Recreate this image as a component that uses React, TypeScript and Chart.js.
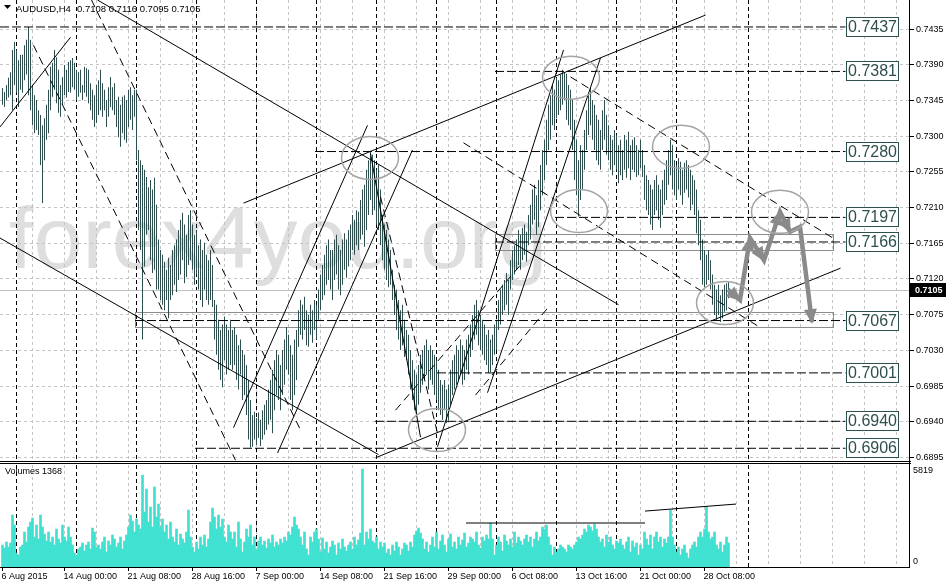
import React, { useEffect, useRef } from 'react';
import { Chart, registerables } from 'chart.js';

Chart.register(...registerables);

// ---------- data ----------
const SYMBOL = 'AUDUSD,H4';
const LAST_OHLC = ['0.7108', '0.7116', '0.7095', '0.7105'];
const BID = 0.7105;
const WATERMARK = 'forex4you.org';

const HIGHS = [
  0.7360, 0.7355, 0.7364, 0.7373, 0.7380, 0.7408, 0.7418, 0.7408, 0.7395, 0.7402,
  0.7402, 0.7414, 0.7421, 0.7437, 0.7421, 0.7364, 0.7351, 0.7345, 0.7332, 0.7326,
  0.7313, 0.7322, 0.7339, 0.7358, 0.7387, 0.7392, 0.7408, 0.7399, 0.7383, 0.7364,
  0.7374, 0.7389, 0.7383, 0.7393, 0.7395, 0.7398, 0.7392, 0.7383, 0.7380, 0.7383,
  0.7364, 0.7387, 0.7385, 0.7383, 0.7366, 0.7358, 0.7351, 0.7364, 0.7370, 0.7383,
  0.7366, 0.7358, 0.7345, 0.7361, 0.7374, 0.7361, 0.7366, 0.7345, 0.7349, 0.7339,
  0.7349, 0.7351, 0.7345, 0.7358, 0.7361, 0.7351, 0.7358, 0.7358, 0.7282, 0.7269,
  0.7263, 0.7257, 0.7248, 0.7235, 0.7244, 0.7232, 0.7247, 0.7213, 0.7169, 0.7156,
  0.7150, 0.7141, 0.7131, 0.7146, 0.7137, 0.7156, 0.7162, 0.7169, 0.7181, 0.7194,
  0.7203, 0.7188, 0.7175, 0.7200, 0.7206, 0.7188, 0.7175, 0.7181, 0.7162, 0.7169,
  0.7156, 0.7165, 0.7150, 0.7143, 0.7156, 0.7137, 0.7093, 0.7087, 0.7068, 0.7055,
  0.7062, 0.7072, 0.7062, 0.7055, 0.7068, 0.7055, 0.7059, 0.7049, 0.7036, 0.7043,
  0.7030, 0.7024, 0.7011, 0.6992, 0.6967, 0.6948, 0.6952, 0.6944, 0.6951, 0.6942,
  0.6954, 0.6961, 0.6967, 0.6980, 0.6992, 0.7005, 0.7017, 0.7030, 0.7024, 0.7011,
  0.7030, 0.7043, 0.7059, 0.7049, 0.7036, 0.7024, 0.7043, 0.7055, 0.7080, 0.7093,
  0.7087, 0.7097, 0.7080, 0.7074, 0.7087, 0.7080, 0.7093, 0.7087, 0.7106, 0.7125,
  0.7137, 0.7150, 0.7162, 0.7169, 0.7156, 0.7156, 0.7169, 0.7175, 0.7162, 0.7156,
  0.7169, 0.7177, 0.7169, 0.7181, 0.7188, 0.7200, 0.7194, 0.7206, 0.7204, 0.7219,
  0.7232, 0.7238, 0.7257, 0.7269, 0.7281, 0.7276, 0.7269, 0.7257, 0.7263, 0.7232,
  0.7200, 0.7188, 0.7181, 0.7169, 0.7156, 0.7131, 0.7112, 0.7106, 0.7093, 0.7080,
  0.7087, 0.7068, 0.7055, 0.7049, 0.7030, 0.7017, 0.7005, 0.6999, 0.7011, 0.7024,
  0.7030, 0.7036, 0.7043, 0.7030, 0.7036, 0.7030, 0.7024, 0.7017, 0.7005, 0.6992,
  0.6986, 0.6992, 0.6980, 0.6986, 0.7005, 0.7017, 0.7024, 0.7036, 0.7030, 0.7043,
  0.7036, 0.7030, 0.7043, 0.7049, 0.7062, 0.7074, 0.7087, 0.7093, 0.7080, 0.7074,
  0.7068, 0.7062, 0.7049, 0.7055, 0.7043, 0.7049, 0.7062, 0.7068, 0.7093, 0.7106,
  0.7112, 0.7118, 0.7127, 0.7118, 0.7143, 0.7156, 0.7162, 0.7169, 0.7181, 0.7175,
  0.7184, 0.7188, 0.7179, 0.7200, 0.7213, 0.7232, 0.7238, 0.7225, 0.7244, 0.7263,
  0.7282, 0.7295, 0.7320, 0.7339, 0.7351, 0.7364, 0.7358, 0.7373, 0.7370, 0.7377,
  0.7383, 0.7380, 0.7378, 0.7364, 0.7358, 0.7345, 0.7320, 0.7295, 0.7269, 0.7288,
  0.7282, 0.7307, 0.7332, 0.7351, 0.7360, 0.7345, 0.7339, 0.7326, 0.7320, 0.7307,
  0.7332, 0.7345, 0.7326, 0.7313, 0.7301, 0.7295, 0.7307, 0.7301, 0.7288, 0.7295,
  0.7282, 0.7301, 0.7295, 0.7305, 0.7288, 0.7295, 0.7298, 0.7288, 0.7282, 0.7295,
  0.7282, 0.7263, 0.7250, 0.7244, 0.7238, 0.7232, 0.7244, 0.7250, 0.7238, 0.7232,
  0.7244, 0.7257, 0.7269, 0.7282, 0.7295, 0.7288, 0.7269, 0.7263, 0.7272, 0.7267,
  0.7257, 0.7266, 0.7269, 0.7263, 0.7257, 0.7250, 0.7244, 0.7232, 0.7206, 0.7194,
  0.7169, 0.7156, 0.7150, 0.7156, 0.7143, 0.7125, 0.7112, 0.7106, 0.7112, 0.7099,
  0.7106, 0.7112, 0.7114, 0.7116,
];

const LOWS = [
  0.7339, 0.7336, 0.7345, 0.7348, 0.7351, 0.7332, 0.7364, 0.7354, 0.7336, 0.7358,
  0.7354, 0.7370, 0.7377, 0.7351, 0.7332, 0.7313, 0.7303, 0.7307, 0.7301, 0.7263,
  0.7215, 0.7269, 0.7295, 0.7303, 0.7332, 0.7349, 0.7358, 0.7341, 0.7329, 0.7324,
  0.7339, 0.7351, 0.7348, 0.7355, 0.7354, 0.7361, 0.7358, 0.7345, 0.7349, 0.7354,
  0.7345, 0.7354, 0.7349, 0.7341, 0.7332, 0.7320, 0.7311, 0.7316, 0.7326, 0.7332,
  0.7324, 0.7332, 0.7311, 0.7324, 0.7336, 0.7332, 0.7326, 0.7311, 0.7298, 0.7286,
  0.7303, 0.7295, 0.7291, 0.7311, 0.7320, 0.7307, 0.7324, 0.7269, 0.7181, 0.7156,
  0.7043, 0.7135, 0.7175, 0.7181, 0.7143, 0.7127, 0.7131, 0.7106, 0.7106, 0.7093,
  0.7087, 0.7080, 0.7093, 0.7070, 0.7093, 0.7099, 0.7112, 0.7103, 0.7118, 0.7125,
  0.7143, 0.7114, 0.7122, 0.7137, 0.7143, 0.7131, 0.7112, 0.7125, 0.7106, 0.7093,
  0.7084, 0.7106, 0.7093, 0.7087, 0.7093, 0.7084, 0.7043, 0.7024, 0.7005, 0.6992,
  0.6983, 0.7017, 0.6999, 0.7005, 0.7011, 0.7005, 0.7011, 0.6992, 0.6980, 0.6999,
  0.6967, 0.6973, 0.6948, 0.6917, 0.6907, 0.6908, 0.6917, 0.6910, 0.6919, 0.6909,
  0.6917, 0.6923, 0.6929, 0.6936, 0.6942, 0.6925, 0.6954, 0.6973, 0.6967, 0.6954,
  0.6973, 0.6986, 0.7005, 0.6999, 0.6967, 0.6954, 0.6973, 0.6992, 0.7034, 0.7049,
  0.7043, 0.7055, 0.7036, 0.7034, 0.7049, 0.7039, 0.7055, 0.7043, 0.7068, 0.7080,
  0.7093, 0.7099, 0.7112, 0.7118, 0.7106, 0.7093, 0.7118, 0.7125, 0.7106, 0.7099,
  0.7112, 0.7131, 0.7121, 0.7135, 0.7143, 0.7156, 0.7150, 0.7162, 0.7156, 0.7169,
  0.7175, 0.7160, 0.7181, 0.7200, 0.7219, 0.7200, 0.7206, 0.7188, 0.7181, 0.7162,
  0.7143, 0.7131, 0.7118, 0.7109, 0.7112, 0.7093, 0.7074, 0.7055, 0.7043, 0.7030,
  0.7036, 0.7021, 0.7017, 0.6999, 0.6980, 0.6967, 0.6954, 0.6946, 0.6961, 0.6976,
  0.6986, 0.6992, 0.6999, 0.6980, 0.6992, 0.6986, 0.6973, 0.6967, 0.6954, 0.6948,
  0.6942, 0.6954, 0.6938, 0.6941, 0.6961, 0.6973, 0.6980, 0.6986, 0.6992, 0.6999,
  0.6986, 0.6992, 0.7005, 0.6999, 0.7021, 0.7030, 0.7043, 0.7049, 0.7036, 0.7030,
  0.7024, 0.7017, 0.7011, 0.7001, 0.7002, 0.7011, 0.7024, 0.7030, 0.7055, 0.7062,
  0.7074, 0.7080, 0.7087, 0.7074, 0.7106, 0.7118, 0.7125, 0.7131, 0.7137, 0.7131,
  0.7143, 0.7150, 0.7141, 0.7162, 0.7169, 0.7188, 0.7194, 0.7175, 0.7185, 0.7206,
  0.7225, 0.7244, 0.7263, 0.7282, 0.7295, 0.7313, 0.7307, 0.7322, 0.7326, 0.7332,
  0.7339, 0.7345, 0.7320, 0.7313, 0.7307, 0.7282, 0.7244, 0.7225, 0.7198, 0.7219,
  0.7232, 0.7257, 0.7282, 0.7301, 0.7313, 0.7295, 0.7282, 0.7269, 0.7263, 0.7257,
  0.7282, 0.7295, 0.7276, 0.7269, 0.7257, 0.7250, 0.7263, 0.7257, 0.7240, 0.7250,
  0.7244, 0.7257, 0.7247, 0.7259, 0.7244, 0.7257, 0.7254, 0.7248, 0.7250, 0.7259,
  0.7248, 0.7219, 0.7206, 0.7200, 0.7188, 0.7181, 0.7200, 0.7206, 0.7194, 0.7184,
  0.7200, 0.7213, 0.7219, 0.7238, 0.7250, 0.7232, 0.7225, 0.7219, 0.7232, 0.7225,
  0.7213, 0.7228, 0.7232, 0.7222, 0.7206, 0.7213, 0.7200, 0.7177, 0.7162, 0.7143,
  0.7112, 0.7109, 0.7112, 0.7118, 0.7106, 0.7087, 0.7074, 0.7068, 0.7074, 0.7065,
  0.7070, 0.7078, 0.7080, 0.7095,
];

const VOLUMES = [
  1254, 1083, 1425, 1140, 1368, 2964, 2394, 798, 684, 1140,
  1254, 1995, 1425, 2280, 2565, 2793, 1710, 2394, 1596, 2964,
  2280, 1881, 1482, 1995, 1425, 1710, 1254, 2166, 1596, 1368,
  2394, 1710, 1482, 2280, 1710, 1254, 798, 684, 1026, 1140,
  1368, 912, 1254, 1425, 1026, 2223, 1995, 1140, 1254, 1026,
  1425, 1710, 855, 1482, 1254, 1824, 1596, 1140, 1368, 1710,
  1026, 1482, 1824, 2280, 2964, 2622, 1995, 2736, 2394, 2166,
  5244, 3135, 4446, 2565, 3420, 2280, 4560, 2850, 3591, 2280,
  2736, 1995, 2394, 1596, 2565, 1710, 1425, 2166, 1254, 1881,
  1596, 1368, 1995, 3249, 1710, 1140, 855, 1425, 1026, 1710,
  1254, 1824, 1140, 1596, 2565, 3363, 2850, 2166, 2964, 2280,
  2736, 1710, 1425, 2394, 1995, 1596, 1995, 1140, 2565, 1596,
  855, 1425, 2166, 1710, 2394, 1254, 1710, 1026, 1482, 1710,
  1254, 1482, 1083, 1596, 1368, 1824, 1140, 1425, 1254, 1596,
  1368, 1710, 1482, 1995, 1824, 2280, 2850, 2394, 2166, 1710,
  1254, 1995, 1026, 684, 1710, 1425, 1995, 2166, 1596, 855,
  1653, 1026, 1425, 798, 1140, 1482, 1254, 684, 1368, 1026,
  1596, 1140, 912, 1254, 1425, 1026, 1710, 1254, 1539, 1938,
  5586, 1254, 1995, 1596, 2166, 1482, 1368, 1710, 1026, 1425,
  1140, 1368, 798, 1026, 684, 1254, 912, 1425, 1140, 684,
  1026, 1368, 1254, 912, 1425, 1140, 1824, 2052, 2223, 1938,
  1596, 1026, 1425, 855, 1254, 1710, 1140, 1995, 1026, 1482,
  1824, 1254, 855, 1596, 1881, 1140, 1425, 1026, 1710, 1254,
  1539, 1938, 1140, 1368, 1710, 1596, 1425, 1995, 1254, 1083,
  1710, 1482, 1824, 1596, 2508, 1596, 684, 1254, 1710, 1425,
  912, 1824, 1482, 1254, 1596, 1140, 1995, 1368, 1710, 1482,
  1254, 1596, 1824, 1425, 1710, 1140, 1596, 1995, 1482, 1710,
  2280, 2166, 2394, 1710, 1254, 684, 1140, 855, 1026, 1254,
  1140, 1026, 855, 1254, 1140, 1026, 1254, 1425, 1710, 1596,
  1824, 2166, 1995, 2394, 2280, 2052, 2451, 2166, 1710, 1425,
  1596, 1140, 1824, 1425, 1710, 1254, 1026, 1482, 1368, 1596,
  1254, 1026, 1425, 1710, 855, 1482, 1140, 1368, 684, 1254,
  1026, 1995, 1596, 1254, 1824, 1026, 1710, 1995, 1425, 1710,
  1140, 1596, 1368, 1710, 3249, 1710, 1254, 855, 1140, 684,
  1026, 1254, 798, 513, 1026, 1254, 1425, 1140, 1710, 1995,
  1710, 2166, 3420, 1995, 1596, 1710, 1995, 1254, 1026, 1425,
  855, 1254, 1710, 1368,
];

const PRICE_TICKS = [0.6895, 0.6940, 0.6985, 0.7030, 0.7075, 0.7120, 0.7165, 0.7210, 0.7255, 0.7300, 0.7345, 0.7390, 0.7435];
const VOLUME_AXIS_MAX = 5819;
const TIME_LABELS = ['6 Aug 2015', '14 Aug 00:00', '21 Aug 08:00', '28 Aug 16:00', '7 Sep 00:00', '14 Sep 08:00', '21 Sep 16:00', '29 Sep 00:00', '6 Oct 08:00', '13 Oct 16:00', '21 Oct 00:00', '28 Oct 08:00'];
const TIME_LABEL_BARS = [0, 31, 63, 95, 127, 159, 191, 223, 255, 287, 319, 351];
const SEPARATOR_BARS = [7, 37, 67, 97, 127, 157, 187, 217, 247, 277, 307, 337, 373];

// horizontal levels with their labels
const LEVELS = [0.7437, 0.7381, 0.7280, 0.7197, 0.7166, 0.7067, 0.7001, 0.6940, 0.6906];
const LEVEL_FROM = [-1.25, 246.25, 156.25, 276.25, 246.25, 66.25, 217.25, 186.25, 96.25];
const LEVEL_LABEL_BAR = 421.5;

// zones (rectangles)
const ZONE_FROM = [66.25, 246.25];
const ZONE_TO = [415, 415];
const ZONE_TOP = [0.70778, 0.71761];
const ZONE_BOTTOM = [0.70589, 0.71559];

// trend lines [bar1, price1, bar2, price2]
const TREND_SOLID = [
  [47.5, 0.7471, 308, 0.7087],
  [-1.25, 0.7171, 188, 0.6898],
  [186.5, 0.6894, 419, 0.7133],
  [120.5, 0.7215, 351.5, 0.7452],
  [115.5, 0.6932, 182.5, 0.7313],
  [137.5, 0.6900, 205, 0.7282],
  [-1.25, 0.7311, 34, 0.7424],
  [217.5, 0.6908, 280.5, 0.7408],
  [242.5, 0.6976, 299, 0.7398],
  [184, 0.7278, 209, 0.6920],
];
const TREND_DASHED = [
  [15.5, 0.7414, 116.5, 0.6891],
  [44.5, 0.7471, 149, 0.6929],
  [189, 0.7223, 217.5, 0.6925],
  [284, 0.7374, 416.5, 0.7169],
  [230.5, 0.7291, 379, 0.7058],
  [196.5, 0.6954, 259, 0.7137],
  [236.5, 0.6973, 273, 0.7084],
];

// ellipse centres [bar, price]
const ELLIPSE_BARS = [183.75, 217.25, 284.25, 288.25, 339.25, 361.25, 388.75];
const ELLIPSE_PRICES = [0.7272, 0.6929, 0.7373, 0.7205, 0.7286, 0.7089, 0.7204];

// forecast path
const FORECAST_BARS = [362.75, 368.75, 373.75, 380.75, 388.75, 393.75, 398.75, 404.75];
const FORECAST_PRICES = [0.7106, 0.7093, 0.7171, 0.7143, 0.7204, 0.7179, 0.7185, 0.7065];
const FORECAST_HEADS = [1, 2, 3, 4, 5, 7];

// volume trend lines
const VOL_LINES = [
  [231.75, 2510, 321.25, 2510],
  [321.25, 3190, 366.75, 3590],
];

// ---------- layout / style ----------
const X_MIN = -1.25;
const X_MAX = 453.25;
const P_MIN = 0.68887;
const P_MAX = 0.7471;
const FONT = '"Liberation Sans", Arial, sans-serif';
const BAR_COLOR = '#2f4f4f';
const VOL_COLOR = '#40e0d0';
const GRID_COLOR = '#c4c4c4';

function hline(ctx: CanvasRenderingContext2D, x0: number, x1: number, y: number) {
  ctx.beginPath(); ctx.moveTo(x0, y); ctx.lineTo(x1, y); ctx.stroke();
}
function vline(ctx: CanvasRenderingContext2D, x: number, y0: number, y1: number) {
  ctx.beginPath(); ctx.moveTo(x, y0); ctx.lineTo(x, y1); ctx.stroke();
}
const crisp = (v: number) => Math.round(v) + 0.5;

function drawVerticalGrid(chart: any) {
  const { ctx, chartArea: a, scales } = chart;
  const x = scales.x;
  ctx.save();
  ctx.lineWidth = 1;
  ctx.strokeStyle = GRID_COLOR;
  ctx.setLineDash([3, 3]);
  for (let b = 15; b <= X_MAX; b += 16) {
    vline(ctx, Math.floor(x.getPixelForValue(b)) + 0.5, a.top, a.bottom);
  }
  ctx.strokeStyle = '#000';
  ctx.setLineDash([4, 3]);
  for (const b of SEPARATOR_BARS) {
    vline(ctx, Math.floor(x.getPixelForValue(b)) + 0.5, a.top, a.bottom);
  }
  ctx.restore();
}

function arrowHead(ctx: CanvasRenderingContext2D, x0: number, y0: number, x1: number, y1: number) {
  const ang = Math.atan2(y1 - y0, x1 - x0);
  const len = 13, half = 6.5;
  const bx = x1 - len * Math.cos(ang), by = y1 - len * Math.sin(ang);
  ctx.beginPath();
  ctx.moveTo(x1 + 2 * Math.cos(ang), y1 + 2 * Math.sin(ang));
  ctx.lineTo(bx + half * Math.sin(ang), by - half * Math.cos(ang));
  ctx.lineTo(bx - half * Math.sin(ang), by + half * Math.cos(ang));
  ctx.closePath();
  ctx.fill();
}

const pricePlugin = {
  id: 'mt4price',
  beforeDraw(chart: any) {
    const { ctx, width, height } = chart;
    ctx.save(); ctx.fillStyle = '#fff'; ctx.fillRect(0, 0, width, height); ctx.restore();
  },
  beforeDatasetsDraw(chart: any) {
    const { ctx, chartArea: a, scales } = chart;
    const x = scales.x, y = scales.y;
    ctx.save();
    // watermark
    ctx.fillStyle = '#dedede';
    ctx.font = `88px ${FONT}`;
    ctx.textBaseline = 'alphabetic';
    ctx.textAlign = 'left';
    ctx.fillText(WATERMARK, 9, 268);
    // horizontal grid
    ctx.lineWidth = 1;
    ctx.strokeStyle = GRID_COLOR;
    ctx.setLineDash([3, 3]);
    for (const t of PRICE_TICKS) hline(ctx, a.left, a.right, crisp(y.getPixelForValue(t)));
    ctx.setLineDash([]);
    ctx.restore();
    drawVerticalGrid(chart);
    ctx.save();
    // bid line
    ctx.strokeStyle = '#c0c0c0';
    ctx.lineWidth = 1;
    hline(ctx, a.left, a.right, crisp(y.getPixelForValue(BID)));
    // zones
    ctx.strokeStyle = '#8c8c8c';
    for (let k = 0; k < ZONE_FROM.length; k++) {
      const x0 = crisp(x.getPixelForValue(ZONE_FROM[k]));
      const x1 = crisp(x.getPixelForValue(ZONE_TO[k]));
      const y0 = crisp(y.getPixelForValue(ZONE_TOP[k]));
      const y1 = crisp(y.getPixelForValue(ZONE_BOTTOM[k]));
      ctx.strokeRect(x0, y0, x1 - x0, y1 - y0);
    }
    ctx.restore();
  },
  afterDatasetsDraw(chart: any) {
    const { ctx, chartArea: a, scales, width } = chart;
    const x = scales.x, y = scales.y;
    ctx.save();
    // ellipses
    ctx.strokeStyle = '#a4a4a4';
    ctx.lineWidth = 1.5;
    for (let k = 0; k < ELLIPSE_BARS.length; k++) {
      ctx.beginPath();
      ctx.ellipse(x.getPixelForValue(ELLIPSE_BARS[k]), y.getPixelForValue(ELLIPSE_PRICES[k]), 28.5, 21.5, 0, 0, Math.PI * 2);
      ctx.stroke();
    }
    // forecast arrow heads
    const meta = chart.getDatasetMeta(chart.data.datasets.findIndex((d: any) => d.label === 'forecast'));
    ctx.fillStyle = '#8a8a8a';
    for (const h of FORECAST_HEADS) {
      const p0 = meta.data[h - 1], p1 = meta.data[h];
      arrowHead(ctx, p0.x, p0.y, p1.x, p1.y);
    }
    // level labels
    ctx.lineWidth = 1;
    ctx.font = `16px ${FONT}`;
    ctx.textBaseline = 'middle';
    ctx.textAlign = 'center';
    const bx = Math.round(x.getPixelForValue(LEVEL_LABEL_BAR)) + 0.5;
    for (const lv of LEVELS) {
      const cy = Math.round(y.getPixelForValue(lv));
      ctx.fillStyle = '#fff';
      ctx.fillRect(bx, cy - 9.5, 52, 19);
      ctx.strokeStyle = BAR_COLOR;
      ctx.strokeRect(bx, cy - 9.5, 52, 19);
      ctx.fillStyle = BAR_COLOR;
      ctx.fillText(lv.toFixed(4), bx + 26, cy + 1);
    }
    // right axis
    ctx.strokeStyle = '#000';
    vline(ctx, a.right + 0.5, 0, a.bottom);
    ctx.font = `9px ${FONT}`;
    ctx.textAlign = 'left';
    ctx.fillStyle = '#000';
    for (const t of PRICE_TICKS) {
      const ty = crisp(y.getPixelForValue(t));
      hline(ctx, a.right + 1, a.right + 5, ty);
      ctx.fillText(t.toFixed(4), a.right + 7, ty);
    }
    // bid label
    const by = Math.round(y.getPixelForValue(BID));
    ctx.fillStyle = '#000';
    ctx.fillRect(a.right + 1, by - 7, width - a.right - 1, 14);
    ctx.fillStyle = '#fff';
    ctx.font = `bold 9px ${FONT}`;
    ctx.fillText(BID.toFixed(4), a.right + 6, by + 0.5);
    // panel separator
    ctx.strokeStyle = '#000';
    hline(ctx, 0, a.right + 2, a.bottom - 0.5);
    // header
    ctx.fillStyle = '#000';
    ctx.beginPath();
    ctx.moveTo(4, 5); ctx.lineTo(11, 5); ctx.lineTo(7.5, 9); ctx.closePath(); ctx.fill();
    ctx.font = `9.5px ${FONT}`;
    ctx.textBaseline = 'alphabetic';
    ctx.fillText(SYMBOL, 16, 11.5);
    ctx.fillText(LAST_OHLC.join(' '), 77, 11.5);
    ctx.restore();
  },
};

const volumePlugin = {
  id: 'mt4volume',
  beforeDraw(chart: any) {
    const { ctx, width, height } = chart;
    ctx.save(); ctx.fillStyle = '#fff'; ctx.fillRect(0, 0, width, height); ctx.restore();
  },
  beforeDatasetsDraw(chart: any) {
    drawVerticalGrid(chart);
  },
  afterDatasetsDraw(chart: any) {
    const { ctx, chartArea: a, scales } = chart;
    const x = scales.x;
    ctx.save();
    ctx.strokeStyle = '#000';
    ctx.lineWidth = 1;
    hline(ctx, 0, a.right + 2, 1.5);
    hline(ctx, 0, a.right + 1, a.bottom + 0.5);
    vline(ctx, a.right + 0.5, 0, a.bottom + 1);
    ctx.fillStyle = '#000';
    ctx.font = `9px ${FONT}`;
    ctx.textBaseline = 'middle';
    ctx.textAlign = 'left';
    ctx.fillText('Volumes ' + VOLUMES[VOLUMES.length - 1], 5, 10);
    ctx.fillText(String(VOLUME_AXIS_MAX), a.right + 4, a.top + 6);
    ctx.fillText('0', a.right + 4, a.bottom - 5);
    for (let k = 0; k < TIME_LABELS.length; k++) {
      const tx = Math.floor(x.getPixelForValue(TIME_LABEL_BARS[k])) + 0.5;
      vline(ctx, tx, a.bottom + 1, a.bottom + 4);
      ctx.fillText(TIME_LABELS[k], tx - 1, a.bottom + 10);
    }
    ctx.restore();
  },
};

export default function App() {
  const priceRef = useRef<HTMLCanvasElement | null>(null);
  const volRef = useRef<HTMLCanvasElement | null>(null);

  useEffect(() => {
    document.body.style.margin = '0';
    const seg = (s: number[]) => [{ x: s[0], y: s[1] }, { x: s[2], y: s[3] }];
    const lineDs = (data: any[], dash: number[], color = '#000', width = 1, order = 1, label = '') => ({
      type: 'line' as const,
      label,
      data,
      borderColor: color,
      borderWidth: width,
      borderDash: dash,
      pointRadius: 0,
      fill: false,
      tension: 0,
      order,
    });

    const priceDatasets: any[] = [
      {
        type: 'bar',
        label: 'bars',
        data: HIGHS.map((h, i) => ({ x: i, y: [LOWS[i], h] })),
        backgroundColor: BAR_COLOR,
        borderWidth: 0,
        barThickness: 1,
        inflateAmount: 0,
        order: 3,
      },
      ...LEVELS.map((lv, k) => lineDs([{ x: LEVEL_FROM[k], y: lv }, { x: LEVEL_LABEL_BAR, y: lv }], [9, 3], '#000', 1, 2)),
      ...TREND_SOLID.map((s) => lineDs(seg(s), [])),
      ...TREND_DASHED.map((s) => lineDs(seg(s), [8, 5])),
      lineDs(FORECAST_BARS.map((b, i) => ({ x: b, y: FORECAST_PRICES[i] })), [], '#8a8a8a', 4.5, 0, 'forecast'),
    ];

    const priceChart = new Chart(priceRef.current as HTMLCanvasElement, {
      type: 'bar',
      data: { datasets: priceDatasets },
      options: {
        responsive: false,
        animation: false,
        devicePixelRatio: 1,
        events: [],
        layout: { padding: { left: 0, top: 0, right: 37, bottom: 0 } },
        plugins: { legend: { display: false }, tooltip: { enabled: false } },
        scales: {
          x: { type: 'linear', min: X_MIN, max: X_MAX, display: false, offset: false },
          y: { type: 'linear', min: P_MIN, max: P_MAX, display: false },
        },
      } as any,
      plugins: [pricePlugin],
    });

    const volChart = new Chart(volRef.current as HTMLCanvasElement, {
      type: 'bar',
      data: {
        datasets: [
          {
            type: 'bar',
            label: 'volume',
            data: VOLUMES.map((v, i) => ({ x: i, y: v })),
            backgroundColor: VOL_COLOR,
            borderWidth: 0,
            barThickness: 2,
            order: 2,
          } as any,
          ...VOL_LINES.map((s) => lineDs(seg(s), [], '#000', 1, 1)),
        ],
      },
      options: {
        responsive: false,
        animation: false,
        devicePixelRatio: 1,
        events: [],
        layout: { padding: { left: 0, top: 3, right: 37, bottom: 17 } },
        plugins: { legend: { display: false }, tooltip: { enabled: false } },
        scales: {
          x: { type: 'linear', min: X_MIN, max: X_MAX, display: false, offset: false },
          y: { type: 'linear', min: 0, max: VOLUME_AXIS_MAX, display: false },
        },
      } as any,
      plugins: [volumePlugin],
    });

    return () => {
      priceChart.destroy();
      volChart.destroy();
    };
  }, []);

  return (
    <div style={{ position: 'absolute', left: 0, top: 0, width: 946, height: 584, background: '#fff' }}>
      <canvas ref={priceRef} width={946} height={462} style={{ position: 'absolute', left: 0, top: 0, width: 946, height: 462 }} />
      <canvas ref={volRef} width={946} height={122} style={{ position: 'absolute', left: 0, top: 462, width: 946, height: 122 }} />
    </div>
  );
}
